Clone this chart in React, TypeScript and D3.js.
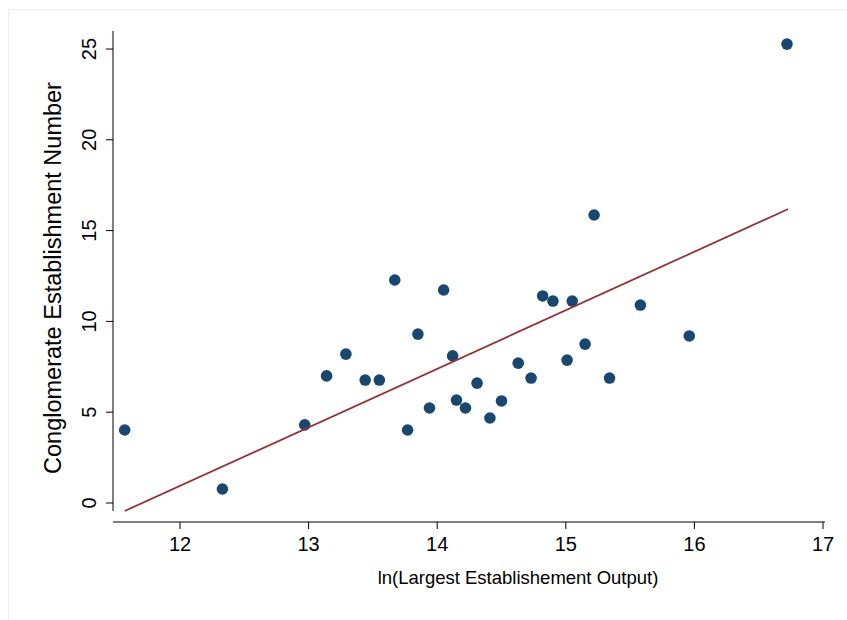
import * as d3 from "d3";

const xs = [11.57, 12.33, 12.97, 13.14, 13.29, 13.44, 13.55, 13.67, 13.77, 13.85, 13.94, 14.05, 14.12, 14.15, 14.22, 14.31, 14.41, 14.5, 14.63, 14.73, 14.82, 14.9, 15.01, 15.05, 15.15, 15.22, 15.34, 15.58, 15.96, 16.72];
const ys = [4.02, 0.77, 4.3, 7.0, 8.2, 6.77, 6.77, 12.28, 4.02, 9.3, 5.23, 11.73, 8.1, 5.67, 5.23, 6.6, 4.68, 5.62, 7.7, 6.88, 11.4, 11.12, 7.87, 11.12, 8.75, 15.86, 6.88, 10.9, 9.2, 25.27];
const fitX = [11.57, 16.73];
const fitY = [-0.44, 16.19];
const xTicks = [12, 13, 14, 15, 16, 17];
const yTicks = [0, 5, 10, 15, 20, 25];

export default function App() {
  const x = d3.scaleLinear().domain([12, 17]).range([180, 823]);
  const y = d3.scaleLinear().domain([0, 25]).range([503, 49]);
  const font = "Arial, 'Liberation Sans', sans-serif";
  const line = d3.line<number>().x((d) => x(fitX[d])).y((d) => y(fitY[d]));
  return (
    <svg width={847} height={620} style={{ position: "absolute", left: 0, top: 0 }}>
      <rect x={0} y={0} width={847} height={620} fill="#fff" />
      <rect x={8.5} y={9.5} width={845} height={620} fill="#fff" stroke="#e8eef2" />
      <line x1={113} x2={113} y1={y(25) - 18} y2={y(0) + 8} stroke="#000" />
      {yTicks.map((t) => (
        <g key={t}>
          <line x1={106} x2={113} y1={y(t)} y2={y(t)} stroke="#000" />
          <text transform={`translate(${96},${y(t)}) rotate(-90)`} textAnchor="middle" fontFamily={font} fontSize={20}>{t}</text>
        </g>
      ))}
      <line x1={113} x2={x(17) + 2} y1={522} y2={522} stroke="#000" />
      {xTicks.map((t) => (
        <g key={t}>
          <line x1={x(t)} x2={x(t)} y1={522} y2={529} stroke="#000" />
          <text x={x(t)} y={551} textAnchor="middle" fontFamily={font} fontSize={20}>{t}</text>
        </g>
      ))}
      <text x={518} y={584} textAnchor="middle" fontFamily={font} fontSize={18.5}>ln(Largest Establishement Output)</text>
      <text transform={`translate(${61},${278}) rotate(-90)`} textAnchor="middle" fontFamily={font} fontSize={23.5}>Conglomerate Establishment Number</text>
      {xs.map((v, i) => (
        <circle key={i} cx={x(v)} cy={y(ys[i])} r={5.8} fill="#1a476f" />
      ))}
      <path d={line([0, 1]) || ""} fill="none" stroke="#90353b" strokeWidth={1.8} />
    </svg>
  );
}
